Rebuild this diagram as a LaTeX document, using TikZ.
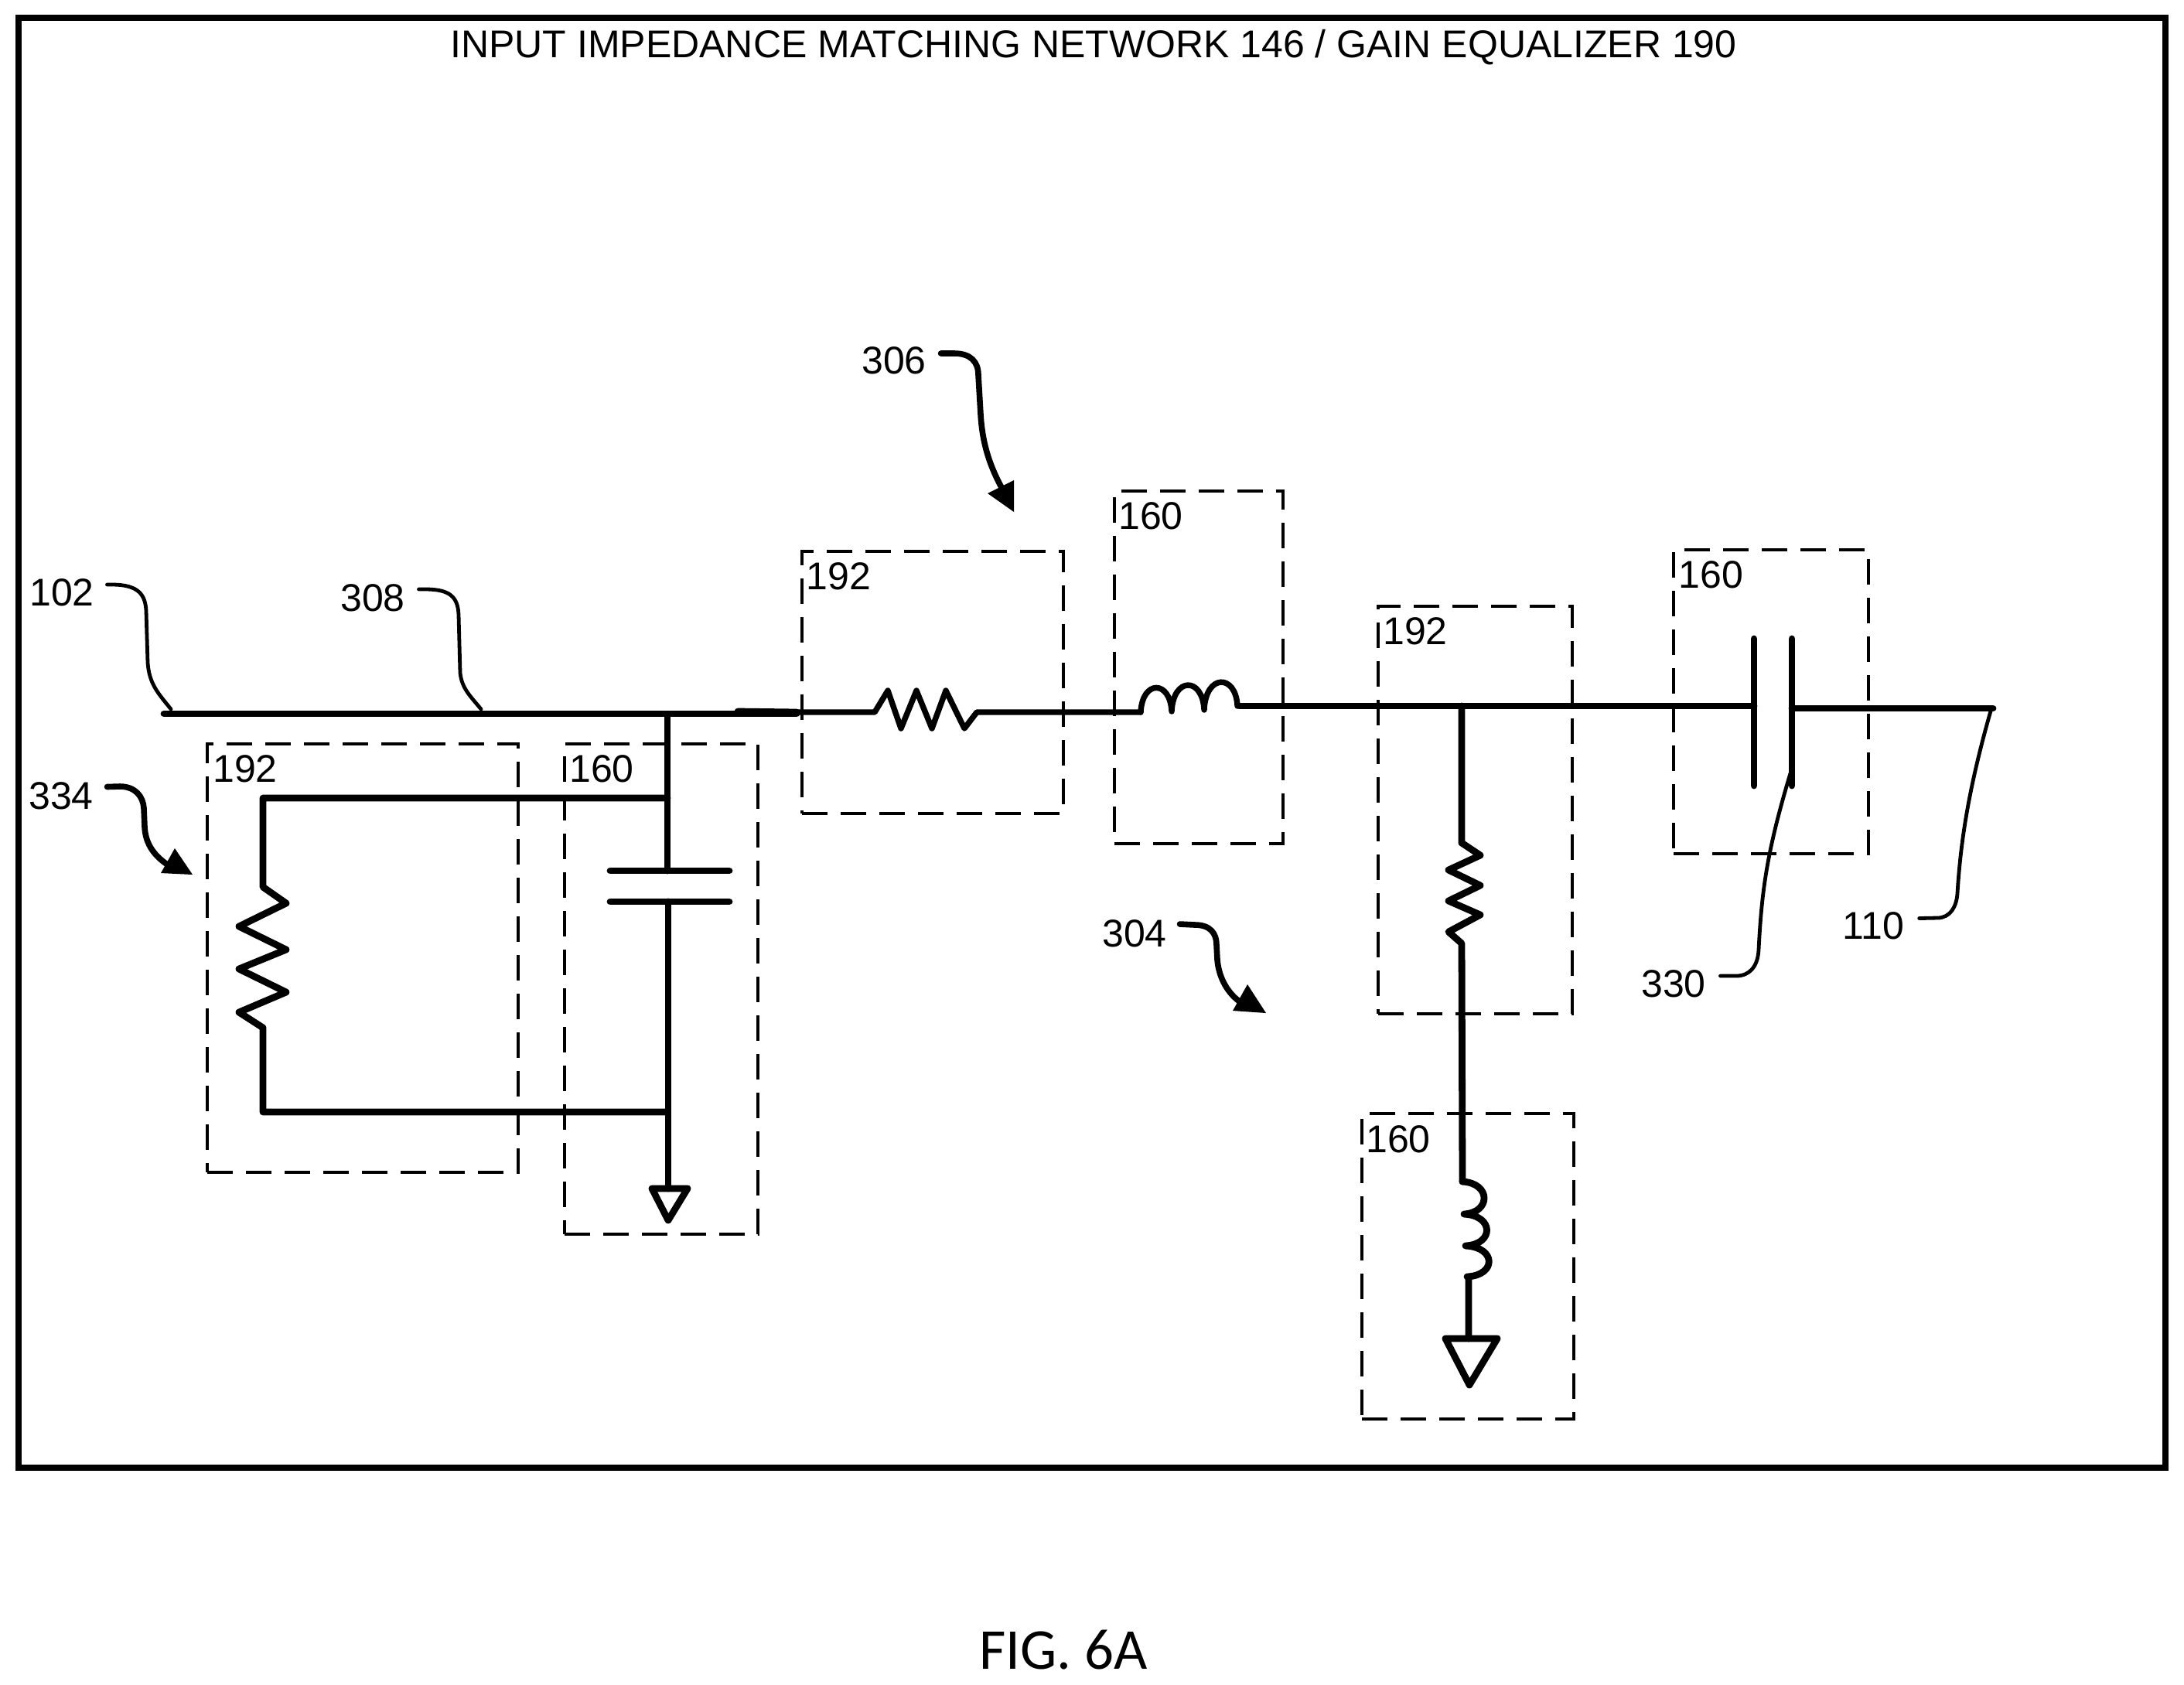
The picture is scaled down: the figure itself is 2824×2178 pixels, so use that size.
\documentclass[tikz,border=0pt]{standalone}
\usepackage{fontspec}
\setmainfont{Liberation Sans}
\newfontfamily\figfont{Carlito}
\tikzset{
  wire/.style={line width=2.2pt,line cap=round,line join=round},
  wirethin/.style={line width=1.85pt,line cap=round,line join=round},
  leader/.style={line width=1.2pt,line cap=round},
  callout/.style={line width=1.9pt,line cap=round},
  head/.style={fill=black,draw=none},
  dbox/.style={draw,rectangle,line width=1.15pt,dash pattern=on 8.2pt off 4.3pt,inner sep=0pt,outer sep=0pt},
  lab/.style={inner sep=0pt,font=\fontsize{12.5pt}{15pt}\selectfont},
}
\begin{document}
\begin{tikzpicture}[x=0.25pt,y=-0.25pt]
\path[use as bounding box,fill=white] (0,0) rectangle (2824,2178);
\node[draw,line width=2.2pt,rectangle,inner sep=0pt,minimum width=694pt,minimum height=468.75pt] (frame) at (1412,960.5) {};
\node[lab] (title) at (1414,61) {INPUT IMPEDANCE MATCHING NETWORK 146 / GAIN EQUALIZER 190};
\node[inner sep=0pt,font=\figfont\fontsize{18.7pt}{22pt}\selectfont] (fig) at (1375,2133) {FIG. 6A};

% dashed boxes
\node[dbox,minimum width=100.5pt,minimum height=138.5pt] (b192a) at (469,1239) {};
\node[dbox,minimum width=62.5pt,minimum height=158.5pt] (b160a) at (855,1279) {};
\node[dbox,minimum width=84.5pt,minimum height=84.75pt] (b192b) at (1206,882.5) {};
\node[dbox,minimum width=54.5pt,minimum height=114pt] (b160b) at (1550,863) {};
\node[dbox,minimum width=62.75pt,minimum height=131.75pt] (b192c) at (1907.5,1047.5) {};
\node[dbox,minimum width=63pt,minimum height=98.25pt] (b160c) at (2290,907.5) {};
\node[dbox,minimum width=68.5pt,minimum height=98.75pt] (b160d) at (1898,1637.5) {};

% box labels
\node[lab] (t192a) at (317,994.5) {192};
\node[lab] (t160a) at (778,994.5) {160};
\node[lab] (t192b) at (1084.5,745.5) {192};
\node[lab] (t160b) at (1488,667) {160};
\node[lab] (t192c) at (1830,816.5) {192};
\node[lab] (t160c) at (2212.5,743.5) {160};
\node[lab] (t160d) at (1808,1473) {160};

% reference labels
\node[lab] (n102) at (80,766) {102};
\node[lab] (n308) at (482,773) {308};
\node[lab] (n334) at (79,1029.5) {334};
\node[lab] (n306) at (1156,466) {306};
\node[lab] (n304) at (1467,1207) {304};
\node[lab] (n330) at (2164,1272) {330};
\node[lab] (n110) at (2422,1197.5) {110};

% key points
\coordinate (in) at (212,923);
\coordinate (j1) at (863,923);
\coordinate (railT) at (863,1032);
\coordinate (railB) at (863,1438);
\coordinate (capT) at (863,1126);
\coordinate (capB) at (864,1166);
\coordinate (gnd1) at (864,1537);
\coordinate (rs) at (1131,921);
\coordinate (thickend) at (1030,921);
\coordinate (re) at (1263,921);
\coordinate (ls) at (1475,921);
\coordinate (le) at (1603,913);
\coordinate (j2) at (1890,913);
\coordinate (c3L) at (2268,913);
\coordinate (c3R) at (2317,916);
\coordinate (out) at (2577,916);
\coordinate (rv) at (1890,1090);
\coordinate (rve) at (1890,1220);
\coordinate (lv) at (1891,1528);
\coordinate (lve) at (1899,1651);
\coordinate (gnd2) at (1899,1731);

% main wires
\draw[wire] (in) -- (j1) -- (capT);
\draw[wire] (j1) -- (1030,923);
\draw[wire] (954,920) -- (thickend);
\draw[wirethin] (thickend) -- (rs) -- (1148,893) -- (1165,942) -- (1185,893) -- (1205,942) -- (1223,893) -- (1247,942) -- (re) -- (ls);
\draw[wirethin] (ls) .. controls (1477,879) and (1513,879) .. (1515,920) .. controls (1517,875) and (1555,875) .. (1557,918) .. controls (1559,871) and (1598,871) .. (1600,913) -- (le);
\draw[wire] (le) -- (c3L);
\draw[wire] (2268,826) -- (2268,1016);
\draw[wire] (2317,826) -- (2317,1016);
\draw[wire] (c3R) -- (out);

% parallel resistor and capacitor
\draw[wire] (railT) -- (340,1032) -- (340,1147) -- (370,1168) -- (309,1198) -- (370,1228) -- (309,1253) -- (370,1283) -- (309,1309) -- (340,1329) -- (340,1438) -- (railB);
\draw[wire] (789,1126) -- (943,1126);
\draw[wire] (789,1166) -- (943,1166);
\draw[wire] (capB) -- (gnd1);
\draw[wire] (843,1537) -- (889,1537) -- (864,1578) -- cycle;

% shunt branch
\draw[wire] (j2) -- (rv) -- (1914,1106) -- (1873,1125) -- (1914,1145) -- (1873,1165) -- (1914,1183) -- (1873,1205) -- (rve) -- (1891,1528);
\draw[wire] (lv) .. controls (1928,1530) and (1928,1568) .. (1893,1570) .. controls (1932,1572) and (1932,1609) .. (1895,1611) .. controls (1935,1613) and (1935,1649) .. (1897,1651) -- (lve) -- (gnd2);
\draw[wire] (1869,1731) -- (1936,1731) -- (1900,1791) -- cycle;

% thin leaders
\draw[leader] (n102.east) ++(16,-10) -- (145,756) .. controls (180,756) and (188,770) .. (189,790) -- (191,857) .. controls (193,885) and (205,897) .. (221,917);
\draw[leader] (n308.east) ++(17,-11) -- (550,762) .. controls (582,762) and (592,772) .. (593,795) -- (595,870) .. controls (597,890) and (608,900) .. (622,917);
\draw[leader] (n330.east) ++(18,-10) -- (2245,1262) .. controls (2262,1262) and (2273,1250) .. (2274,1228) .. controls (2278,1150) and (2285,1100) .. (2315,1000);
\draw[leader] (n110.east) ++(19,-10) -- (2505,1187) .. controls (2522,1187) and (2530,1172) .. (2531,1155) .. controls (2535,1090) and (2545,1020) .. (2575,916);

% call-out arrows
\draw[callout] (n334.east) ++(17,-12) -- (155,1017) .. controls (175,1017) and (185,1030) .. (186,1045) -- (187,1069) .. controls (188,1092) and (200,1108) .. (221,1121);
\fill[head] (226,1097) -- (249,1131) -- (208,1129) -- cycle;
\draw[callout] (n306.east) ++(18,-9) -- (1234,457) .. controls (1255,457) and (1265,468) .. (1265,485) -- (1268,536) .. controls (1270,570) and (1278,600) .. (1297,634);
\fill[head] (1311,621) -- (1311,662) -- (1277,638) -- cycle;
\draw[callout] (n304.east) ++(16,-12) -- (1545,1196) .. controls (1565,1196) and (1573,1207) .. (1573,1222) -- (1574,1241) .. controls (1576,1265) and (1588,1285) .. (1604,1296);
\fill[head] (1613,1273) -- (1637,1310) -- (1594,1307) -- cycle;
\end{tikzpicture}
\end{document}
